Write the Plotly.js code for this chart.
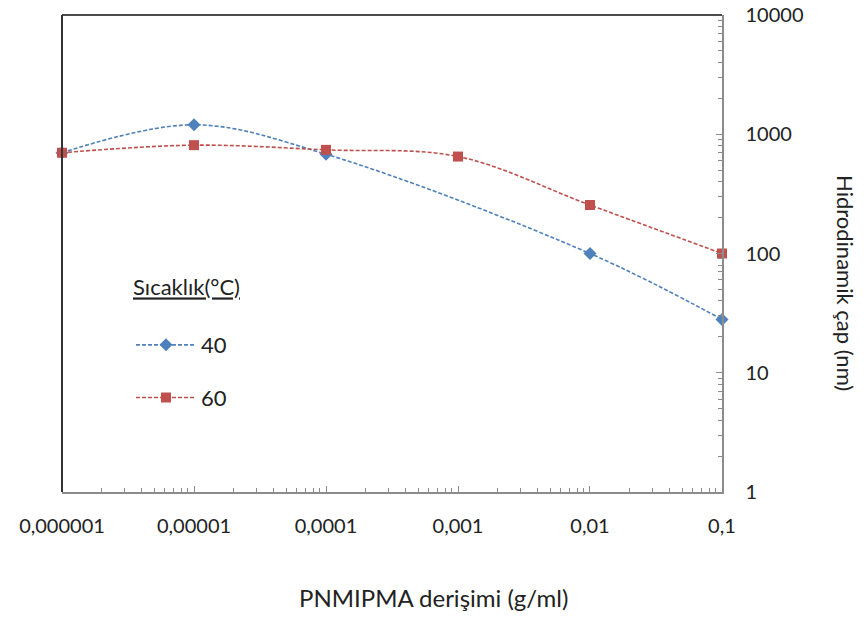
<!DOCTYPE html>
<html>
<head>
<meta charset="utf-8">
<script src="https://cdn.plot.ly/plotly-3.0.1.min.js"></script>
<style>html,body{margin:0;padding:0;background:#fff}#chart{width:864px;height:617px}</style>
</head>
<body>
<div id="chart"></div>
<script>
const concentrations = [0.000001, 0.00001, 0.0001, 0.001, 0.01, 0.1];
const series40X = [0.000001, 0.00001, 0.0001, 0.01, 0.1];
const series40 = [700, 1200, 680, 100, 28];
const series60X = [0.000001, 0.00001, 0.0001, 0.001, 0.01, 0.1];
const series60 = [700, 810, 740, 650, 255, 100];
const xTickLabels = ['0,000001', '0,00001', '0,0001', '0,001', '0,01', '0,1'];
const yTickVals = [1, 10, 100, 1000, 10000];
const yTickLabels = ['1', '10', '100', '1000', '10000'];
const legendTitle = 'Sıcaklık(°C)';
const xTitle = 'PNMIPMA derişimi (g/ml)';
const yTitle = 'Hidrodinamik çap (nm)';

const FONT = 'Lato, "Open Sans", sans-serif';

const traces = [
  {
    x: series40X, y: series40, name: '40', legendgroup: 'a',
    type: 'scatter', mode: 'lines+markers', cliponaxis: false,
    line: {shape: 'spline', smoothing: 1, color: '#4F81BD', width: 1.6, dash: '4px,2px'},
    marker: {symbol: 'diamond', size: 10, color: '#4F81BD'}
  },
  {
    x: series60X, y: series60, name: '60', legendgroup: 'b',
    type: 'scatter', mode: 'lines+markers', cliponaxis: false,
    line: {shape: 'spline', smoothing: 1, color: '#C0504D', width: 1.6, dash: '4px,2px'},
    marker: {symbol: 'square', size: 10, color: '#C0504D'}
  }
];

const layout = {
  width: 864, height: 617,
  margin: {l: 62, r: 142, t: 15, b: 125},
  paper_bgcolor: '#fff', plot_bgcolor: '#fff',
  font: {family: FONT, color: '#222', size: 20},
  showlegend: true,
  legend: {
    x: (131 - 62) / 660, y: 0.472, xanchor: 'left', yanchor: 'top',
    bgcolor: 'rgba(0,0,0,0)', borderwidth: 0,
    font: {family: FONT, size: 22, color: '#222'},
    title: {text: '<span style="text-decoration:underline">' + legendTitle + '</span><br> ', side: 'top center', font: {family: FONT, size: 22, color: '#222'}},
    traceorder: 'grouped', tracegroupgap: 21, itemwidth: 60
  },
  xaxis: {
    type: 'log', range: [Math.log10(concentrations[0]) - 0.0001, Math.log10(concentrations[concentrations.length - 1]) + 0.0001],
    tickmode: 'array', tickvals: concentrations, ticktext: xTickLabels,
    showline: true, linecolor: '#8c8c8c', linewidth: 1.5,
    ticks: 'inside', ticklen: 6, tickcolor: '#8c8c8c', ticklabelstandoff: 15,
    showgrid: false, zeroline: false,
    tickfont: {family: FONT, size: 20, color: '#222'},
    minor: {dtick: 'D1', ticks: 'inside', ticklen: 4, tickcolor: '#8c8c8c', showgrid: false}
  },
  yaxis: {
    type: 'log', range: [-0.0001, 4.0001], side: 'right',
    tickmode: 'array', tickvals: yTickVals, ticktext: yTickLabels,
    showline: true, linecolor: '#8c8c8c', linewidth: 1.5,
    ticks: 'inside', ticklen: 6, tickcolor: '#8c8c8c', ticklabelstandoff: 18,
    showgrid: false, zeroline: false,
    tickfont: {family: FONT, size: 20, color: '#222'},
    minor: {dtick: 'D1', ticks: 'inside', ticklen: 4, tickcolor: '#8c8c8c', showgrid: false}
  },
  shapes: [
    {type: 'line', xref: 'paper', yref: 'paper', x0: 0, x1: 1, y0: 1, y1: 1, line: {color: '#111', width: 1.5}},
    {type: 'line', xref: 'paper', yref: 'paper', x0: 0, x1: 0, y0: 0, y1: 1, line: {color: '#333', width: 2}}
  ],
  annotations: [
    {text: xTitle, xref: 'paper', yref: 'paper', x: (433 - 62) / 660, y: -(597 - 492) / 477,
     xanchor: 'center', yanchor: 'middle', showarrow: false, font: {family: FONT, size: 24, color: '#222'}},
    {text: yTitle, xref: 'paper', yref: 'paper', x: (846 - 62) / 660, y: (492 - 283) / 477,
     xanchor: 'center', yanchor: 'middle', textangle: 90, showarrow: false, font: {family: FONT, size: 22, color: '#222'}}
  ]
};

Plotly.newPlot('chart', traces, layout, {displayModeBar: false, staticPlot: true});
</script>
</body>
</html>
